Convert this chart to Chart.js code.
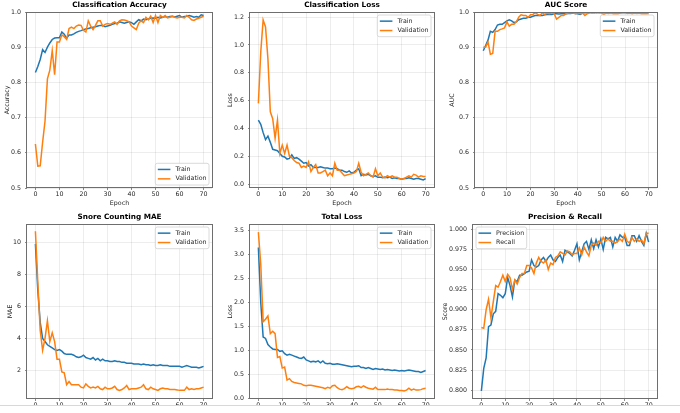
<!DOCTYPE html>
<html><head><meta charset="utf-8">
<script src="https://cdn.jsdelivr.net/npm/chart.js@4.4.0/dist/chart.umd.min.js"></script>
<style>
html,body{margin:0;padding:0;background:#fff;overflow:hidden;width:680px;height:413px;position:relative;}
canvas{position:absolute;}
#cut{position:absolute;left:0;top:405px;width:680px;height:8px;background:#fff;border-top:1px solid #d8d8d8;}
</style></head><body>
<canvas id="c1"></canvas><canvas id="c2"></canvas><canvas id="c3"></canvas>
<canvas id="c4"></canvas><canvas id="c5"></canvas><canvas id="c6"></canvas>
<div id="cut"></div>
<script>
// ---------------- data ----------------
const epochs = [0,1,2,3,4,5,6,7,8,9,10,11,12,13,14,15,16,17,18,19,20,21,22,23,24,25,26,27,28,29,30,31,32,33,34,35,36,37,38,39,40,41,42,43,44,45,46,47,48,49,50,51,52,53,54,55,56,57,58,59,60,61,62,63,64,65,66,67,68,69,70];

const accTrain = [0.828,0.845,0.865,0.893,0.885,0.9,0.912,0.922,0.926,0.927,
0.927,0.943,0.937,0.925,0.935,0.935,0.938,0.942,0.945,0.947,
0.95,0.952,0.953,0.955,0.957,0.958,0.96,0.962,0.962,0.958,
0.96,0.962,0.965,0.967,0.968,0.972,0.97,0.968,0.97,0.972,
0.97,0.965,0.972,0.978,0.975,0.98,0.978,0.98,0.982,0.983,
0.982,0.985,0.983,0.985,0.987,0.985,0.987,0.988,0.986,0.988,
0.99,0.985,0.987,0.988,0.99,0.988,0.985,0.987,0.985,0.992,0.99];
const accVal = [0.625,0.562,0.563,0.63,0.69,0.81,0.835,0.89,0.822,0.915,
0.915,0.935,0.93,0.922,0.953,0.957,0.953,0.96,0.963,0.962,
0.948,0.943,0.975,0.96,0.95,0.962,0.975,0.975,0.96,0.965,
0.967,0.965,0.968,0.972,0.965,0.975,0.978,0.977,0.975,0.972,
0.96,0.955,0.95,0.968,0.975,0.97,0.985,0.978,0.988,0.97,
0.99,0.97,0.99,0.985,0.99,0.983,0.985,0.988,0.985,0.983,
0.985,0.985,0.983,0.99,0.985,0.978,0.976,0.98,0.982,0.985,0.988];

const clsTrain = [0.46,0.43,0.37,0.32,0.345,0.3,0.25,0.245,0.24,0.22,
0.2,0.195,0.18,0.185,0.21,0.185,0.19,0.18,0.165,0.15,
0.155,0.13,0.14,0.12,0.12,0.12,0.125,0.12,0.115,0.115,
0.11,0.11,0.115,0.11,0.1,0.1,0.09,0.085,0.095,0.08,
0.085,0.1,0.11,0.06,0.07,0.065,0.07,0.06,0.055,0.06,
0.05,0.05,0.045,0.05,0.045,0.05,0.04,0.045,0.04,0.04,
0.035,0.04,0.04,0.045,0.04,0.035,0.04,0.04,0.035,0.03,0.04];
const clsVal = [0.58,0.95,1.18,1.13,0.9,0.52,0.47,0.33,0.46,0.22,
0.28,0.22,0.28,0.2,0.19,0.17,0.155,0.15,0.12,0.13,
0.12,0.16,0.09,0.12,0.14,0.08,0.08,0.09,0.1,0.06,
0.08,0.06,0.15,0.1,0.1,0.08,0.06,0.065,0.07,0.075,
0.08,0.09,0.15,0.085,0.06,0.07,0.08,0.06,0.05,0.11,
0.06,0.08,0.05,0.045,0.06,0.05,0.06,0.05,0.05,0.04,
0.035,0.04,0.05,0.06,0.05,0.07,0.065,0.05,0.06,0.055,0.055];

const aucTrain = [0.89,0.905,0.92,0.945,0.942,0.95,0.963,0.965,0.965,0.97,
0.975,0.978,0.975,0.97,0.972,0.978,0.98,0.982,0.982,0.985,
0.985,0.988,0.99,0.99,0.99,0.99,0.992,0.993,0.993,0.993,
0.995,0.995,0.994,0.995,0.996,0.995,0.996,0.996,0.997,0.996,
0.995,0.993,0.997,0.998,0.998,0.999,0.998,0.999,0.998,0.999,
0.999,0.998,0.999,0.999,0.998,0.999,0.999,0.999,0.998,0.999,
0.999,0.999,0.998,0.999,0.999,0.999,0.998,0.999,0.999,0.999,0.999];
const aucVal = [0.9,0.9,0.915,0.88,0.882,0.945,0.945,0.95,0.952,0.955,
0.972,0.96,0.965,0.965,0.972,0.985,0.992,0.99,0.99,0.985,
0.992,0.993,0.998,0.993,0.99,0.998,0.993,0.997,0.995,0.998,
0.995,0.98,0.985,0.99,0.99,0.995,0.997,0.998,0.997,0.995,
0.998,0.995,0.997,0.99,0.995,0.998,0.998,0.997,0.999,0.997,
0.997,0.993,0.997,0.996,0.998,0.995,0.996,0.995,0.997,0.997,
0.998,0.996,0.997,0.995,0.997,0.996,0.997,0.995,0.996,0.995,0.996];

const maeTrain = [9.9,7.0,5.0,4.0,3.8,3.6,3.5,3.4,3.3,3.25,
3.3,3.2,3.05,3.0,3.0,3.0,2.95,2.85,2.8,2.85,
2.95,2.8,2.75,2.7,2.8,2.65,2.75,2.6,2.7,2.6,
2.6,2.55,2.55,2.6,2.55,2.55,2.5,2.5,2.45,2.45,
2.45,2.4,2.4,2.4,2.35,2.4,2.35,2.35,2.3,2.35,
2.3,2.3,2.35,2.3,2.3,2.3,2.25,2.25,2.25,2.25,
2.25,2.2,2.25,2.3,2.25,2.2,2.2,2.2,2.15,2.2,2.25];
const maeVal = [10.7,7.5,4.5,3.25,4.0,5.1,3.8,4.35,3.8,2.7,
2.7,1.9,1.85,1.1,1.3,1.1,1.1,1.1,1.1,0.95,
0.9,1.15,1.0,0.9,0.95,0.9,1.0,0.85,0.8,0.95,
0.85,0.85,0.9,1.0,0.8,0.75,0.8,0.9,1.05,0.8,
0.85,0.85,0.85,0.9,0.95,1.1,0.85,0.8,0.95,0.85,
0.8,0.75,0.85,0.9,0.85,0.85,0.8,0.8,0.8,0.78,
0.75,0.75,0.75,0.95,0.8,0.85,0.8,0.85,0.85,0.9,0.95];

const totTrain = [3.15,2.0,1.28,1.25,1.12,1.07,1.03,1.02,1.02,0.98,
0.99,0.93,0.9,0.92,0.9,0.88,0.86,0.84,0.83,0.86,
0.8,0.78,0.76,0.77,0.76,0.78,0.74,0.78,0.73,0.72,
0.73,0.71,0.71,0.72,0.71,0.7,0.69,0.68,0.67,0.66,
0.67,0.67,0.68,0.64,0.64,0.62,0.64,0.62,0.6,0.62,
0.61,0.6,0.61,0.59,0.6,0.59,0.58,0.59,0.58,0.57,
0.58,0.57,0.58,0.59,0.58,0.57,0.56,0.56,0.54,0.56,0.58];
const totVal = [3.47,2.8,1.6,1.65,1.72,1.35,1.4,1.35,0.85,0.87,
0.63,0.65,0.38,0.41,0.35,0.33,0.32,0.31,0.3,0.27,
0.26,0.27,0.27,0.26,0.25,0.24,0.23,0.22,0.2,0.23,
0.21,0.26,0.27,0.22,0.19,0.18,0.2,0.24,0.21,0.2,
0.21,0.24,0.25,0.22,0.26,0.23,0.21,0.2,0.19,0.23,
0.18,0.18,0.18,0.18,0.19,0.18,0.18,0.17,0.17,0.16,
0.16,0.15,0.17,0.21,0.17,0.19,0.17,0.17,0.18,0.2,0.21];

const precision = [0.799,0.827,0.84,0.879,0.881,0.895,0.898,0.92,0.918,0.915,
0.92,0.94,0.93,0.916,0.937,0.935,0.943,0.943,0.945,0.947,
0.948,0.962,0.955,0.953,0.955,0.962,0.965,0.96,0.965,0.968,
0.962,0.96,0.965,0.968,0.96,0.974,0.972,0.97,0.967,0.974,
0.982,0.962,0.972,0.982,0.985,0.975,0.987,0.976,0.987,0.978,
0.988,0.975,0.99,0.988,0.99,0.978,0.99,0.985,0.993,0.99,
0.99,0.98,0.98,0.992,0.992,0.985,0.992,0.985,0.98,0.995,0.984];
const recall = [0.878,0.877,0.9,0.913,0.89,0.91,0.93,0.928,0.935,0.943,
0.935,0.944,0.94,0.925,0.937,0.932,0.94,0.945,0.945,0.955,
0.955,0.952,0.945,0.958,0.965,0.96,0.958,0.962,0.95,0.958,
0.956,0.965,0.967,0.972,0.97,0.968,0.973,0.972,0.968,0.97,
0.97,0.977,0.968,0.978,0.972,0.967,0.98,0.983,0.98,0.985,
0.983,0.99,0.985,0.988,0.985,0.985,0.983,0.985,0.988,0.985,
0.994,0.985,0.983,0.99,0.985,0.988,0.985,0.987,0.982,0.995,0.995];

// tick values and labels
const xTicks = [0,10,20,30,40,50,60,70];
const xTickLabels = ['0','10','20','30','40','50','60','70'];
const accTicks = [0.5,0.6,0.7,0.8,0.9,1.0];
const accTickLabels = ['0.5','0.6','0.7','0.8','0.9','1.0'];
const clsTicks = [0.0,0.2,0.4,0.6,0.8,1.0,1.2];
const clsTickLabels = ['0.0','0.2','0.4','0.6','0.8','1.0','1.2'];
const maeTicks = [2,4,6,8,10];
const maeTickLabels = ['2','4','6','8','10'];
const totTicks = [0.0,0.5,1.0,1.5,2.0,2.5,3.0,3.5];
const totTickLabels = ['0.0','0.5','1.0','1.5','2.0','2.5','3.0','3.5'];
const prTicks = [0.800,0.825,0.850,0.875,0.900,0.925,0.950,0.975,1.000];
const prTickLabels = ['0.800','0.825','0.850','0.875','0.900','0.925','0.950','0.975','1.000'];

const BLUE = '#1f77b4', ORANGE = '#ff7f0e';
const FS = 6.3;
const TXT = '#262626';
Chart.defaults.font.family = '"DejaVu Sans", sans-serif';

const framePlugin = {
  id: 'frame',
  afterDatasetsDraw(chart) {
    const {ctx, chartArea: a} = chart;
    ctx.save();
    ctx.strokeStyle = '#6e6e6e';
    ctx.lineWidth = 1;
    ctx.strokeRect(Math.round(a.left) - 0.5, Math.round(a.top) + 0.5, Math.round(a.right) - Math.round(a.left) + 1, Math.round(a.bottom) - Math.round(a.top) - 1);
    ctx.restore();
  }
};

const legendPlugin = {
  id: 'mlLegend',
  afterDraw(chart, args, opts) {
    const {ctx, chartArea: a} = chart;
    const items = chart.data.datasets.map(d => ({label: d.label, color: d.borderColor}));
    ctx.save();
    ctx.font = FS + 'px "DejaVu Sans"';
    let tw = 0;
    items.forEach(it => { tw = Math.max(tw, ctx.measureText(it.label).width); });
    const pad = 2.5, hl = 12.6, htp = 5, rowH = 7.3, gap = 2.1, axPad = 3;
    const w = pad * 2 + hl + htp + tw;
    const h = pad * 2 + rowH * items.length + gap * (items.length - 1);
    const corner = opts.corner;
    const x = corner[1] === 'r' ? a.right - axPad - w : a.left + axPad;
    const y = corner[0] === 'l' ? a.bottom - axPad - h : a.top + axPad;
    const r = 2;
    ctx.beginPath();
    ctx.moveTo(x + r, y);
    ctx.arcTo(x + w, y, x + w, y + h, r);
    ctx.arcTo(x + w, y + h, x, y + h, r);
    ctx.arcTo(x, y + h, x, y, r);
    ctx.arcTo(x, y, x + w, y, r);
    ctx.closePath();
    ctx.fillStyle = 'rgba(255,255,255,0.85)';
    ctx.fill();
    ctx.strokeStyle = '#d0d0d0';
    ctx.lineWidth = 0.8;
    ctx.stroke();
    items.forEach((it, i) => {
      const cy = y + pad + rowH / 2 + i * (rowH + gap);
      ctx.strokeStyle = it.color;
      ctx.lineWidth = 1.5;
      ctx.beginPath();
      ctx.moveTo(x + pad, cy);
      ctx.lineTo(x + pad + hl, cy);
      ctx.stroke();
      ctx.fillStyle = TXT;
      ctx.textBaseline = 'middle';
      ctx.textAlign = 'left';
      ctx.fillText(it.label, x + pad + hl + htp, cy);
    });
    ctx.restore();
  }
};

function makeChart(id, spec) {
  const cv = document.getElementById(id);
  cv.width = spec.w; cv.height = spec.h;
  cv.style.left = spec.x + 'px'; cv.style.top = spec.y + 'px';
  cv.style.width = spec.w + 'px'; cv.style.height = spec.h + 'px';
  const datasets = spec.series.map((s, k) => ({
    label: s.label,
    data: epochs.map((e, i) => ({x: e, y: s.values[i]})),
    borderColor: s.color,
    backgroundColor: s.color,
    borderWidth: 1.5,
    pointRadius: 0,
    tension: 0,
    fill: false,
    clip: 0,
    order: spec.series.length - k
  }));
  const grid = {color: 'rgba(0,0,0,0.09)', lineWidth: 0.8, tickLength: 2, tickColor: '#6e6e6e', drawTicks: true};
  return new Chart(cv, {
    type: 'line',
    data: {datasets},
    options: {
      responsive: false,
      animation: false,
      events: [],
      layout: {padding: {left: 0, top: 0, right: spec.padR, bottom: 0}},
      plugins: {
        legend: {display: false},
        tooltip: {enabled: false},
        title: {display: true, text: spec.title, fullSize: false, color: '#000',
                font: {size: 7.3, weight: 'bold'}, padding: {top: 1, bottom: 2.24}},
        mlLegend: {corner: spec.corner}
      },
      scales: {
        x: {
          type: 'linear', min: -3.5, max: 73.5,
          afterBuildTicks: s => { s.ticks = xTicks.map(v => ({value: v})); },
          afterFit: s => { s.height = 19; },
          ticks: {callback: (v, i) => xTickLabels[i], font: {size: FS}, color: TXT, padding: 1, maxRotation: 0, autoSkip: false},
          grid: grid,
          border: {display: false},
          title: {display: true, text: 'Epoch', font: {size: FS}, color: TXT, padding: 0}
        },
        y: {
          type: 'linear', min: spec.ymin, max: spec.ymax,
          afterBuildTicks: s => { s.ticks = spec.yTicks.map(v => ({value: v})); },
          afterFit: s => { s.width = spec.yW; },
          ticks: {callback: (v, i) => spec.yLabels[i], font: {size: FS}, color: TXT, padding: 4, autoSkip: false},
          grid: grid,
          border: {display: false},
          title: {display: true, text: spec.ylabel, font: {size: FS}, color: TXT, padding: {top: spec.ytPad, bottom: 0}}
        }
      }
    },
    plugins: [framePlugin, legendPlugin]
  });
}

makeChart('c1', {x: 0, y: 0, w: 225, h: 207, padR: 13, yW: 27, ytPad: 3.2,
  title: 'Classification Accuracy', ylabel: 'Accuracy', ymin: 0.5, ymax: 1.0,
  yTicks: accTicks, yLabels: accTickLabels, corner: 'lr',
  series: [{label: 'Train', values: accTrain, color: BLUE}, {label: 'Validation', values: accVal, color: ORANGE}]});
makeChart('c2', {x: 225, y: 0, w: 225, h: 207, padR: 16, yW: 25, ytPad: 1.2,
  title: 'Classification Loss', ylabel: 'Loss', ymin: -0.028, ymax: 1.237,
  yTicks: clsTicks, yLabels: clsTickLabels, corner: 'ur',
  series: [{label: 'Train', values: clsTrain, color: BLUE}, {label: 'Validation', values: clsVal, color: ORANGE}]});
makeChart('c3', {x: 448, y: 0, w: 232, h: 207, padR: 23, yW: 27, ytPad: 0.2,
  title: 'AUC Score', ylabel: 'AUC', ymin: 0.5, ymax: 1.0,
  yTicks: accTicks, yLabels: accTickLabels, corner: 'ur',
  series: [{label: 'Train', values: aucTrain, color: BLUE}, {label: 'Validation', values: aucVal, color: ORANGE}]});
makeChart('c4', {x: 0, y: 212, w: 225, h: 206, padR: 13, yW: 27, ytPad: 6.2,
  title: 'Snore Counting MAE', ylabel: 'MAE', ymin: 0.21, ymax: 11.15,
  yTicks: maeTicks, yLabels: maeTickLabels, corner: 'ur',
  series: [{label: 'Train', values: maeTrain, color: BLUE}, {label: 'Validation', values: maeVal, color: ORANGE}]});
makeChart('c5', {x: 225, y: 212, w: 225, h: 206, padR: 16, yW: 25, ytPad: 1.2,
  title: 'Total Loss', ylabel: 'Loss', ymin: -0.016, ymax: 3.64,
  yTicks: totTicks, yLabels: totTickLabels, corner: 'ur',
  series: [{label: 'Train', values: totTrain, color: BLUE}, {label: 'Validation', values: totVal, color: ORANGE}]});
makeChart('c6', {x: 441, y: 212, w: 239, h: 206, padR: 23, yW: 32, ytPad: 0.2,
  title: 'Precision & Recall', ylabel: 'Score', ymin: 0.789, ymax: 1.0066,
  yTicks: prTicks, yLabels: prTickLabels, corner: 'ul',
  series: [{label: 'Precision', values: precision, color: BLUE}, {label: 'Recall', values: recall, color: ORANGE}]});
</script>
</body></html>
